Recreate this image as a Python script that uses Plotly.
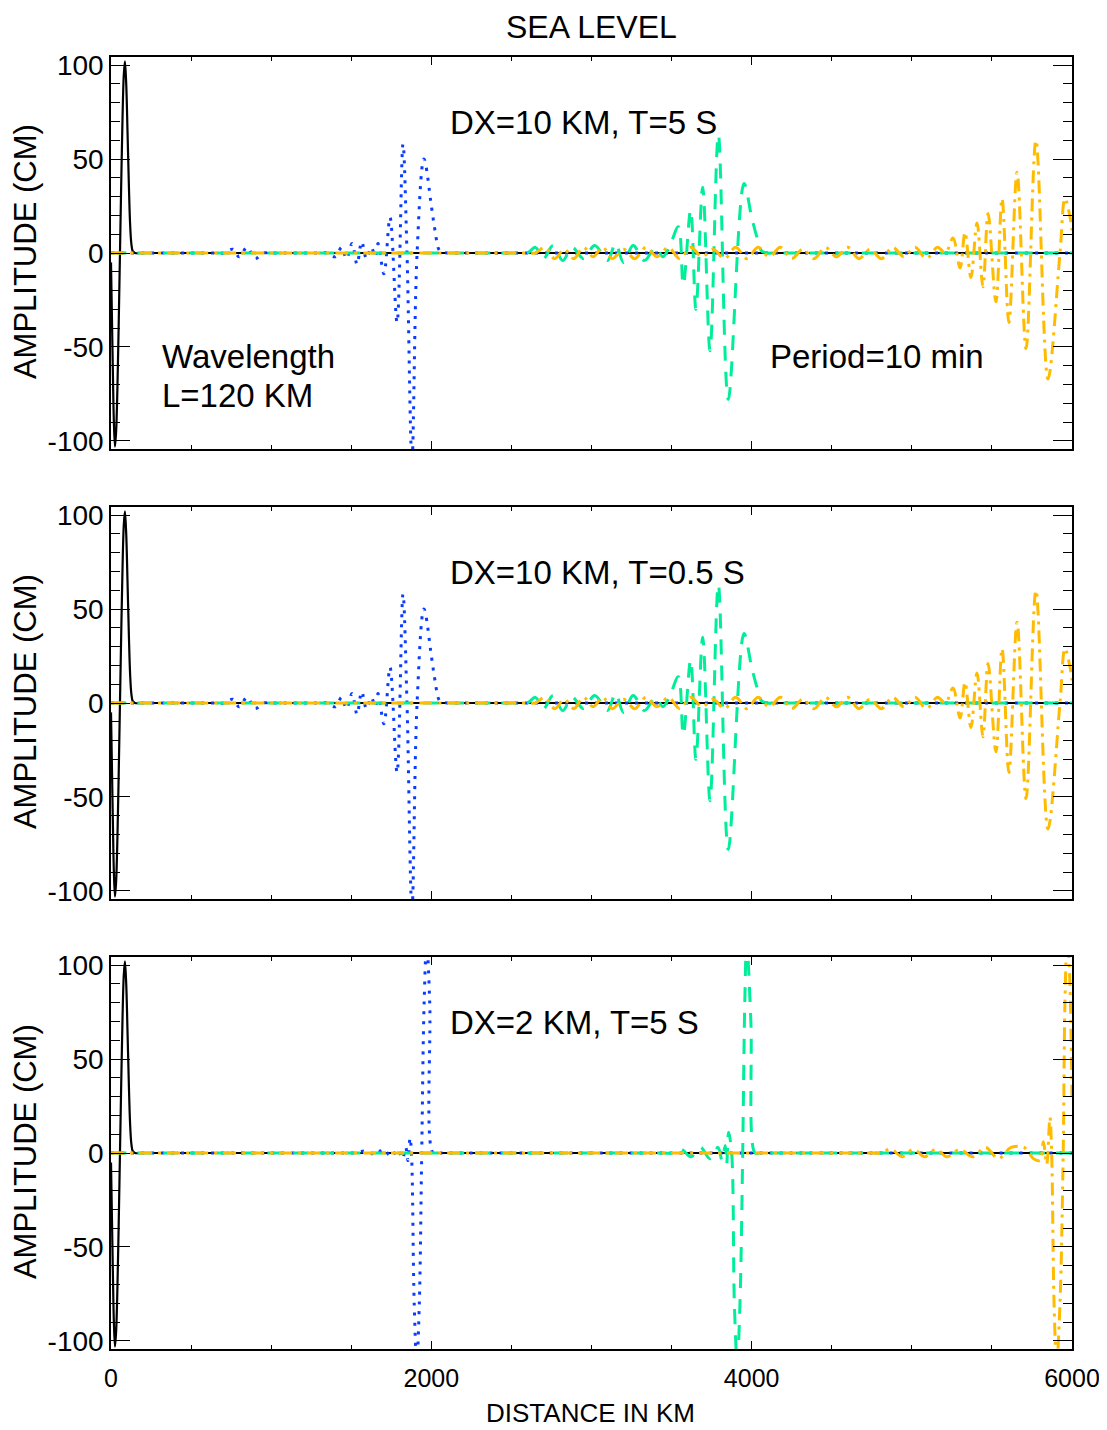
import plotly.graph_objects as go

# ---------------------------------------------------------------------------
# data (distance in km, sea level in cm)
# ---------------------------------------------------------------------------
DIST_BLACK = [0, 6, 12, 18, 25, 32, 40, 48, 56, 64, 72, 80, 87, 95, 103, 111, 119, 127, 136, 150,
              200, 6000]
SEA_BLACK = [-5, -35, -65, -90, -103, -95, -72, -38, 0, 38, 72, 95, 102, 90, 65, 38, 16, 5, 1, 0,
             0, 0]

# DX=10 KM (T=5 S and T=0.5 S look the same)
DIST_BLUE_10 = [0, 650, 700, 760, 800, 850, 900, 950, 1000, 1300, 1350, 1400, 1440, 1470, 1505,
                1536, 1565, 1595, 1625, 1650, 1667, 1704, 1742, 1786, 1823, 1848, 1879, 1911, 1954,
                2002, 2023, 2054, 2100, 2150, 6000]
SEA_BLUE_10 = [0, 0, 0, 2, -2, 3, -3, 0, 0, 0, 0, -2, 3, -3, 5,
               -6, 6, -3, 3, -2, 5, -11, 19, -37, 58, 0, -110, 0, 50,
               24, 12, 1, 0, 0, 0]

DIST_GREEN_10 = [0, 2550, 2600, 2650, 2700, 2760, 2820, 2880, 2950, 3020, 3100, 3150, 3200, 3260,
                 3330, 3400, 3446, 3490, 3542, 3573, 3619, 3652, 3694, 3740, 3792, 3854, 3952,
                 4000, 4031, 4063, 4100, 4150, 6000]
SEA_GREEN_10 = [0, 0, 0, 3, -3, 4, -4, 3, -3, 4, -4, 5, -5, 4,
                -4, 3, -2, 4, 14, -17, 23, -30, 35, -52, 63, -78, 37,
                19, 9, 1, 0, 0, 0]

DIST_YELLOW_10 = [0, 2600, 2650, 2710, 2770, 2830, 2890, 2950, 3010, 3070, 3130, 3200, 3270, 3340,
                  3410, 3480, 3550, 3620, 3690, 3760, 3830, 3900, 3970, 4040, 4110, 4180, 4250,
                  4320, 4390, 4460, 4530, 4600, 4670, 4740, 4810, 4880, 4950, 5020, 5090, 5160,
                  5210, 5257, 5301, 5332, 5369, 5407, 5444, 5476, 5525, 5563, 5606, 5657, 5713,
                  5775, 5850, 5925, 5956, 5988, 6000]
SEA_YELLOW_10 = [0, 0, 0, 3, -3, 2, -3, 3, -2, 3, -3, 2, -3, 3,
                 -2, 3, -3, 3, -2, 2, -3, 3, -3, 3, -2, 3, -3,
                 2, -3, 3, -2, 3, -3, 2, -3, 3, -2, 3, -3, 3,
                 0, 8, -8, 11, -13, 16, -18, 21, -26, 29, -37, 43, -51,
                 60, -67, 0, 29, 19, 12]

# DX=2 KM, T=5 S
DIST_BLUE_2 = [0, 1450, 1500, 1600, 1650, 1700, 1750, 1790, 1820, 1840, 1854, 1867, 1876, 1893,
               1909, 1925, 1940, 1955, 1971, 1990, 2010, 2040, 2080, 6000]
SEA_BLUE_2 = [0, 0, 0, 1, -1, 2, -2, 2, -3, 3, -4, 8, 0, -80,
              -112, -80, 0, 80, 112, 80, 0, 0, 0, 0]

DIST_GREEN_2 = [0, 3450, 3500, 3560, 3620, 3680, 3740, 3790, 3815, 3835, 3844, 3856, 3875, 3892,
                3910, 3927, 3944, 3957, 3969, 3995, 4021, 4050, 4090, 6000]
SEA_GREEN_2 = [0, 0, 0, 2, -2, 3, -3, 3, -4, 4, -6, 11, 0, -80,
               -112, -80, 0, 80, 112, 70, 0, 0, 0, 0]

DIST_YELLOW_2 = [0, 4750, 4800, 4870, 4940, 5010, 5080, 5150, 5220, 5300, 5380, 5460, 5540, 5620,
                 5700, 5760, 5800, 5821, 5842, 5862, 5873, 5888, 5904, 5925, 5945, 5956, 5970,
                 5985, 6000]
SEA_YELLOW_2 = [0, 0, 0, 2, -2, 2, -2, 2, -2, 2, -2, 3, -3, 3,
                3, -3, -4, 6, -6, 19, 0, -80, -112, -80, 0, 80, 115,
                95, 30]

PANEL_LABELS = ["DX=10 KM, T=5 S", "DX=10 KM, T=0.5 S", "DX=2 KM, T=5 S"]
Y_TICKS = [-100, -50, 0, 50, 100]
X_TICKS = [0, 2000, 4000, 6000]

FONTE = "Liberation Sans, Arial, sans-serif"

COR_BLUE = "#0a3cff"
COR_GREEN = "#00ee99"
COR_YELLOW = "#ffbb00"

PANELS = [
    (DIST_BLUE_10, SEA_BLUE_10, DIST_GREEN_10, SEA_GREEN_10, DIST_YELLOW_10, SEA_YELLOW_10),
    (DIST_BLUE_10, SEA_BLUE_10, DIST_GREEN_10, SEA_GREEN_10, DIST_YELLOW_10, SEA_YELLOW_10),
    (DIST_BLUE_2, SEA_BLUE_2, DIST_GREEN_2, SEA_GREEN_2, DIST_YELLOW_2, SEA_YELLOW_2),
]
DOMAINS = [[0.6966, 1.0], [0.3483, 0.6517], [0.0, 0.3034]]

fig = go.Figure()

for i, (xb, yb, xg, yg, xy, yy) in enumerate(PANELS):
    xa = "x" if i == 0 else f"x{i + 1}"
    ya = "y" if i == 0 else f"y{i + 1}"
    fig.add_trace(go.Scatter(x=DIST_BLACK, y=SEA_BLACK, mode="lines", xaxis=xa, yaxis=ya,
                             line=dict(color="black", width=2.2, shape="spline")))
    fig.add_trace(go.Scatter(x=xb, y=yb, mode="lines", xaxis=xa, yaxis=ya,
                             line=dict(color=COR_BLUE, width=3, dash="3px,7px", shape="spline")))
    fig.add_trace(go.Scatter(x=xg, y=yg, mode="lines", xaxis=xa, yaxis=ya,
                             line=dict(color=COR_GREEN, width=3, dash="15px,11px", shape="spline")))
    fig.add_trace(go.Scatter(x=xy, y=yy, mode="lines", xaxis=xa, yaxis=ya,
                             line=dict(color=COR_YELLOW, width=3, dash="13px,6px,3px,6px",
                                       shape="spline")))

# the page body has an 8 px margin, so the figure is drawn 8 px smaller
layout = dict(
    width=1099,
    height=1422,
    margin=dict(l=103, r=35, t=49, b=81),
    paper_bgcolor="white",
    plot_bgcolor="white",
    showlegend=False,
    font=dict(family=FONTE, size=26, color="black"),
)

for i, dom in enumerate(DOMAINS):
    sfx = "" if i == 0 else str(i + 1)
    layout["xaxis" + sfx] = dict(
        domain=[0, 1], anchor="y" + sfx, range=[0, 6000], automargin=False,
        showline=True, linecolor="black", linewidth=1.5, mirror="ticks",
        ticks="inside", ticklen=8, tickwidth=1.2, tickcolor="black",
        tickmode="array", tickvals=X_TICKS, ticktext=[str(v) for v in X_TICKS],
        showticklabels=(i == 2), ticklabelstandoff=6, ticklabeloverflow="allow",
        tickfont=dict(family=FONTE, size=25),
        minor=dict(tickmode="linear", tick0=0, dtick=500, ticks="inside", ticklen=4,
                   tickwidth=1, tickcolor="black"),
        showgrid=False, zeroline=False,
    )
    layout["yaxis" + sfx] = dict(
        domain=dom, anchor="x" + sfx, range=[-104.3, 104.3], automargin=False,
        showline=True, linecolor="black", linewidth=1.5, mirror="ticks",
        ticks="inside", ticklen=19, tickwidth=1.2, tickcolor="black",
        tickmode="array", tickvals=Y_TICKS, ticktext=[str(v) for v in Y_TICKS],
        tickfont=dict(family=FONTE, size=28), ticklabelstandoff=0,
        minor=dict(tickmode="linear", tick0=0, dtick=10, ticks="inside", ticklen=9,
                   tickwidth=1, tickcolor="black"),
        showgrid=False, zeroline=False,
    )

fig.update_layout(**layout)

annotations = [
    dict(text="SEA LEVEL", xref="paper", yref="paper", x=0.5005, y=1.0232,
         xanchor="center", yanchor="middle", showarrow=False,
         font=dict(family=FONTE, size=32)),
    dict(text="DISTANCE IN KM", xref="paper", yref="paper", x=0.4985, y=-0.0495,
         xanchor="center", yanchor="middle", showarrow=False,
         font=dict(family=FONTE, size=26)),
]
for i, label in enumerate(PANEL_LABELS):
    sfx = "" if i == 0 else str(i + 1)
    annotations.append(dict(text=label, xref="x" + sfx, yref="y" + sfx, x=2104, y=69.7,
                            xanchor="left", yanchor="middle", showarrow=False,
                            font=dict(family=FONTE, size=33)))
    annotations.append(dict(text="AMPLITUDE (CM)", xref="paper", yref="y" + sfx,
                            x=-0.0895, y=1, xanchor="center", yanchor="middle",
                            textangle=-90, showarrow=False,
                            font=dict(family=FONTE, size=31)))

annotations += [
    dict(text="Wavelength", xref="x", yref="y", x=306, y=-55.3, xanchor="left",
         yanchor="middle", showarrow=False, font=dict(family=FONTE, size=33)),
    dict(text="L=120 KM", xref="x", yref="y", x=306, y=-76, xanchor="left",
         yanchor="middle", showarrow=False, font=dict(family=FONTE, size=33)),
    dict(text="Period=10 min", xref="x", yref="y", x=4102, y=-55.3, xanchor="left",
         yanchor="middle", showarrow=False, font=dict(family=FONTE, size=33)),
]
fig.update_layout(annotations=annotations)

fig.write_html("out.html")
